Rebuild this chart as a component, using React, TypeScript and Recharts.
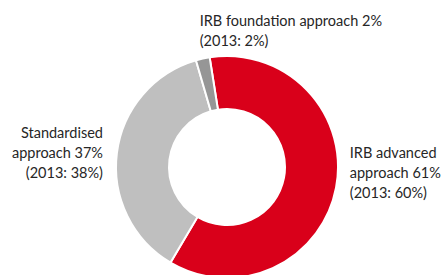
import React from 'react';
import { PieChart, Pie, Cell } from 'recharts';

// Share of credit risk RWA by approach, 2014 vs 2013
const approaches = ['IRB advanced approach', 'Standardised approach', 'IRB foundation approach'];
const share2014 = [61, 37, 2];
const share2013 = [60, 38, 2];
const labelLines = [
  ['IRB advanced', 'approach 61%', '(2013: 60%)'],
  ['Standardised', 'approach 37%', '(2013: 38%)'],
  ['IRB foundation approach 2%', '(2013: 2%)'],
];
const colors = ['#d9001a', '#bfbfbf', '#969696'];

const data = approaches.map((name, i) => ({
  name,
  value: share2014[i],
  prev: share2013[i],
  lines: labelLines[i],
}));

const RADIAN = Math.PI / 180;
const LINE_HEIGHT = 20;

const renderLabel = (props: any) => {
  const { cx, cy, midAngle, outerRadius, index } = props;
  const lines: string[] = data[index].lines;
  const r = outerRadius + 14;
  const px = cx + r * Math.cos(-midAngle * RADIAN);
  const py = cy + r * Math.sin(-midAngle * RADIAN);
  const sin = Math.sin(midAngle * RADIAN);
  const cos = Math.cos(midAngle * RADIAN);

  let anchor: 'start' | 'end' = cos >= 0 ? 'start' : 'end';
  let firstY: number;
  if (sin > 0.9) {
    // label sitting above the slice
    anchor = 'start';
    firstY = py - 5 - (lines.length - 1) * LINE_HEIGHT;
  } else if (cos >= 0) {
    firstY = py - 18 - ((lines.length - 1) * LINE_HEIGHT) / 2;
  } else {
    firstY = py + 1 - ((lines.length - 1) * LINE_HEIGHT) / 2;
  }

  return (
    <text
      x={px}
      y={firstY}
      textAnchor={anchor}
      dominantBaseline="central"
      fill="#262626"
      style={{ fontSize: '14.5px', fontFamily: 'Lato, "Open Sans", sans-serif' }}
    >
      {lines.map((line, i) => (
        <tspan key={i} x={px} dy={i === 0 ? 0 : LINE_HEIGHT}>
          {line}
        </tspan>
      ))}
    </text>
  );
};

export default function App() {
  return (
    <div style={{ position: 'absolute', left: 0, top: 0, width: 441, height: 275, background: '#fff' }}>
      <PieChart width={441} height={275} margin={{ top: 0, right: 0, bottom: 0, left: 0 }}>
        <Pie
          data={data}
          dataKey="value"
          nameKey="name"
          cx={227}
          cy={167}
          innerRadius={58}
          outerRadius={111}
          startAngle={99}
          endAngle={-261}
          stroke="#ffffff"
          strokeWidth={2}
          label={renderLabel}
          labelLine={false}
          isAnimationActive={false}
        >
          {data.map((entry, index) => (
            <Cell key={`cell-${index}`} fill={colors[index]} />
          ))}
        </Pie>
      </PieChart>
    </div>
  );
}
